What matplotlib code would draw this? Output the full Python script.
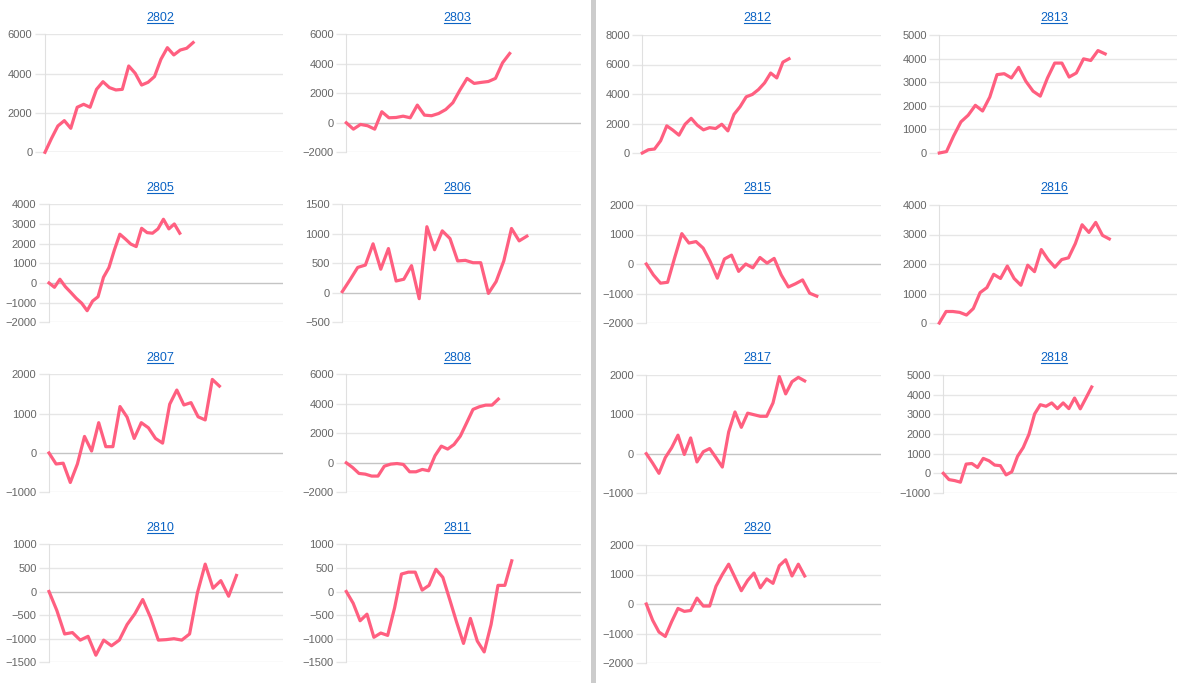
import matplotlib.pyplot as plt
from matplotlib.lines import Line2D
from matplotlib.patches import Rectangle

plt.rcParams['font.family'] = ['Liberation Sans', 'DejaVu Sans']

W, H = 1184, 683

# cumulative series
v2802 = [0, 700, 1340, 1610, 1220, 2290, 2440, 2290, 3200, 3590, 3290, 3170, 3200, 4390, 4020, 3420, 3560, 3850, 4730, 5320, 4950, 5200, 5290, 5580]
v2803 = [0, -430, -110, -200, -430, 750, 340, 360, 450, 340, 1200, 520, 480, 630, 900, 1360, 2220, 3010, 2670, 2740, 2800, 3010, 4070, 4700]
v2812 = [0, 220, 270, 830, 1840, 1550, 1210, 1950, 2350, 1880, 1570, 1720, 1660, 1950, 1500, 2620, 3140, 3810, 3970, 4300, 4750, 5420, 5090, 6160, 6390]
v2813 = [0, 60, 730, 1320, 1600, 2020, 1780, 2370, 3320, 3360, 3180, 3630, 3040, 2620, 2410, 3180, 3810, 3810, 3220, 3390, 3990, 3920, 4340, 4200]
v2805 = [0, -220, 190, -190, -480, -780, -1030, -1410, -920, -700, 290, 780, 1680, 2480, 2240, 1980, 1850, 2780, 2560, 2530, 2750, 3240, 2750, 3000, 2530]
v2806 = [20, 220, 430, 470, 830, 400, 750, 200, 230, 460, -100, 1120, 730, 1050, 920, 540, 550, 510, 510, -10, 190, 540, 1090, 880, 960]
v2815 = [0, -370, -650, -620, 220, 1030, 710, 760, 540, 80, -480, 170, 300, -250, 0, -130, 220, 30, 190, -370, -780, -670, -540, -990, -1090]
v2816 = [0, 390, 390, 360, 270, 490, 1030, 1200, 1650, 1510, 1930, 1510, 1280, 1960, 1740, 2490, 2150, 1890, 2150, 2210, 2690, 3330, 3070, 3410, 2970, 2850]
v2807 = [0, -280, -260, -750, -280, 420, 50, 770, 160, 160, 1180, 910, 370, 770, 640, 370, 250, 1240, 1600, 1220, 1280, 920, 840, 1870, 1700]
v2808 = [0, -320, -720, -770, -900, -900, -230, -90, -50, -110, -610, -610, -450, -540, 480, 1130, 930, 1240, 1810, 2710, 3620, 3800, 3910, 3910, 4320]
v2817 = [0, -240, -500, -100, 150, 470, -20, 400, -210, 50, 130, -100, -340, 550, 1060, 670, 1030, 990, 950, 950, 1290, 1960, 1520, 1830, 1940, 1850]
v2818 = [0, -320, -370, -450, 470, 500, 300, 760, 640, 420, 390, -80, 80, 860, 1310, 1980, 3020, 3490, 3410, 3580, 3290, 3580, 3290, 3830, 3280, 3830, 4390]
v2810 = [0, -400, -900, -870, -1030, -950, -1350, -1030, -1150, -1030, -700, -470, -170, -550, -1030, -1020, -1000, -1030, -900, -30, 580, 70, 230, -100, 340]
v2811 = [0, -250, -620, -480, -970, -880, -930, -350, 370, 410, 410, 30, 130, 470, 300, -170, -650, -1100, -570, -1050, -1280, -700, 130, 130, 650]
v2820 = [0, -550, -950, -1100, -600, -150, -250, -220, 200, -70, -70, 600, 1000, 1350, 900, 450, 800, 1050, 550, 850, 700, 1300, 1500, 950, 1350, 950]

codes = ['2802', '2803', '2812', '2813',
         '2805', '2806', '2815', '2816',
         '2807', '2808', '2817', '2818',
         '2810', '2811', '2820']
series = [v2802, v2803, v2812, v2813,
          v2805, v2806, v2815, v2816,
          v2807, v2808, v2817, v2818,
          v2810, v2811, v2820]
# number of x categories (label slots) for each chart
n_slots = [37, 33, 39, 33,
           43, 31, 33, 35,
           33, 37, 37, 41,
           30, 34, 37]
# y axis (min, max, step)
y_ranges = [(0, 6000, 2000), (-2000, 6000, 2000), (0, 8000, 2000), (0, 5000, 1000),
            (-2000, 4000, 1000), (-500, 1500, 500), (-2000, 2000, 1000), (0, 4000, 1000),
            (-1000, 2000, 1000), (-2000, 6000, 2000), (-1000, 2000, 1000), (-1000, 5000, 1000),
            (-1500, 1000, 500), (-1500, 1000, 500), (-2000, 2000, 1000)]

line_color = '#ff5f80'
grid_color = '#e6e6e6'
zero_color = '#c4c4c4'
link_color = '#0b63c4'

col_right = [283.3, 580.7, 880.7, 1177.3]
col_base = [45, 342.3, 642.3, 939.3]
title_x = [160, 457, 757, 1054]
row_top = [34.3, 204.3, 374.3, 544.3]
plot_h = 118


def label_width(s):
    return 6.7 * sum(ch.isdigit() for ch in s) + 4 * s.count('-')


fig = plt.figure(figsize=(W / 100, H / 100), dpi=100)
fig.patch.set_facecolor('white')

# divider between the two halves
fig.add_artist(Rectangle((591 / W, 0), 5 / W, 1, transform=fig.transFigure,
                         color='#cccccc', lw=0))

titles = []
for i, code in enumerate(codes):
    r, c = divmod(i, 4)
    lo, hi, step = y_ranges[i]
    ticks = list(range(lo, hi + 1, step))
    wmax = max(label_width(str(t)) for t in ticks)
    left = col_base[c] + wmax - 26.8
    top = row_top[r] + (0.7 if c >= 2 else 0)
    ax = fig.add_axes([left / W, 1 - (top + plot_h) / H,
                       (col_right[c] - left) / W, plot_h / H])
    for t in ticks:
        ax.axhline(t, color=zero_color if t == 0 else grid_color, lw=1, zorder=0)
    vals = series[i]
    ax.plot(range(len(vals)), vals, color=line_color, lw=2.3, zorder=3, clip_on=False)
    ax.set_xlim(0, n_slots[i])
    ax.set_ylim(lo, hi)
    ax.set_yticks(ticks)
    ax.set_xticks([])
    ax.tick_params(axis='y', length=7, width=1, color=grid_color, labelsize=8,
                   labelcolor='#666666', pad=2)
    for s in ['top', 'right', 'bottom']:
        ax.spines[s].set_visible(False)
    ax.spines['left'].set_color('#e0e0e0')
    ax.set_facecolor('none')
    t = fig.text(title_x[c] / W, 1 - (row_top[r] - 16) / H, code, ha='center',
                 va='center', color=link_color, fontsize=9)
    titles.append(t)

# underline the titles like links
fig.canvas.draw()
renderer = fig.canvas.get_renderer()
for t in titles:
    bb = t.get_window_extent(renderer)
    y = bb.y0 + 1.5
    fig.add_artist(Line2D([(bb.x0 + 0.5) / W, (bb.x1 - 0.5) / W], [y / H, y / H],
                          transform=fig.transFigure, color=link_color, lw=0.8))

fig.savefig('out.png', dpi=100)
